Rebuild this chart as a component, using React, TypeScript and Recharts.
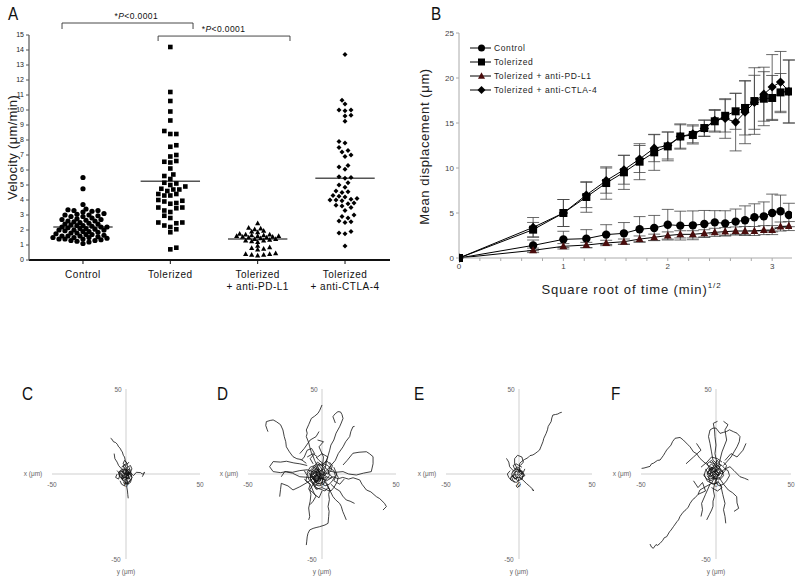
import React from 'react';
import {
  ScatterChart, Scatter, XAxis, YAxis, ReferenceLine, ReferenceDot,
  LineChart, Line, ErrorBar, Legend,
} from 'recharts';

const FONT = '"Liberation Sans", Arial, sans-serif';

// ---------------- Panel A data (velocity, µm/min) ----------------
const categories = ['Control', 'Tolerized', 'Tolerized\n+ anti-PD-L1', 'Tolerized\n+ anti-CTLA-4'];
const controlVelocity = [5.5, 4.75, 3.7, 3.4, 3.35, 3.3, 3.3, 3.25, 3.2, 3.1, 3.05, 3.0, 3.0, 2.95, 2.9, 2.9, 2.8, 2.75, 2.7, 2.7, 2.65, 2.6, 2.6, 2.55, 2.5, 2.45, 2.4, 2.4, 2.35, 2.3, 2.3, 2.25, 2.2, 2.2, 2.2, 2.15, 2.1, 2.1, 2.05, 2.0, 2.0, 2.0, 1.95, 1.9, 1.9, 1.85, 1.8, 1.8, 1.75, 1.7, 1.7, 1.65, 1.6, 1.6, 1.6, 1.55, 1.5, 1.5, 1.5, 1.45, 1.4, 1.4, 1.4, 1.35, 1.3, 1.3, 1.25, 1.2, 1.1];
const tolerizedVelocity = [14.2, 11.2, 10.6, 9.9, 9.3, 8.6, 8.4, 8.4, 7.65, 7.55, 7.0, 6.9, 6.6, 6.55, 6.5, 6.1, 5.7, 5.6, 5.4, 5.15, 5.1, 5.0, 4.9, 4.75, 4.7, 4.7, 4.6, 4.4, 4.3, 4.3, 4.4, 4.0, 3.95, 3.9, 3.8, 3.75, 3.5, 3.45, 3.5, 3.3, 3.2, 2.95, 2.8, 2.5, 2.5, 2.45, 2.3, 2.2, 2.05, 1.85, 0.82, 0.71];
const pdl1Velocity = [2.45, 2.15, 2.1, 2.05, 1.95, 1.9, 1.85, 1.75, 1.7, 1.7, 1.65, 1.65, 1.6, 1.6, 1.6, 1.55, 1.55, 1.5, 1.5, 1.45, 1.4, 1.4, 1.35, 1.3, 1.3, 1.25, 1.2, 0.95, 0.85, 0.8, 0.75, 0.7, 0.45, 0.4, 0.4, 0.35, 0.35, 0.3];
const ctla4Velocity = [13.7, 10.65, 10.4, 10.0, 10.0, 9.95, 9.65, 9.6, 9.25, 7.9, 7.8, 7.5, 7.3, 7.2, 7.0, 6.9, 6.3, 6.2, 6.05, 5.55, 5.5, 5.45, 5.15, 5.0, 4.85, 4.6, 4.55, 4.5, 4.3, 4.25, 4.2, 4.1, 4.05, 4.0, 4.0, 3.95, 3.8, 3.75, 3.65, 3.6, 3.5, 3.3, 3.0, 2.9, 2.8, 2.6, 2.55, 2.5, 1.9, 1.8, 1.75, 0.93];
const medianVelocity = [2.2, 5.25, 1.4, 5.45];
const velocityTicks = [0, 1, 2, 3, 4, 5, 6, 7, 8, 9, 10, 11, 12, 13, 14, 15];
const brackets = [
  { from: -0.24, to: 1.26, y: 15.8, drop: 15.4, label: 0.61 },
  { from: 0.86, to: 2.37, y: 14.93, drop: 14.6, label: 1.61 },
];

// ---------------- Panel B data (mean displacement, µm) ----------------
const sqrtTime = [0, 0.71, 1, 1.22, 1.41, 1.58, 1.73, 1.87, 2, 2.12, 2.24, 2.35, 2.45, 2.55, 2.65, 2.74, 2.83, 2.92, 3, 3.08, 3.16];
const controlDisp = [0, 1.4, 2.07, 2.15, 2.6, 2.74, 3.2, 3.33, 3.7, 3.6, 3.63, 3.78, 3.96, 3.85, 4.04, 4.19, 4.52, 4.63, 5.0, 5.19, 4.78];
const controlErr = [0, 0.6, 0.9, 1.0, 1.1, 1.2, 1.4, 1.4, 1.7, 1.6, 1.6, 1.5, 1.3, 1.4, 1.4, 1.6, 1.5, 1.6, 2.1, 1.8, 1.3];
const tolerizedDisp = [0, 3.15, 5.0, 6.78, 8.33, 9.52, 10.7, 11.74, 12.4, 13.5, 13.67, 14.44, 15.19, 15.8, 16.3, 16.67, 17.44, 17.7, 17.78, 18.4, 18.5];
const tolerizedErr = [0, 0.8, 1.5, 1.7, 1.8, 1.9, 2.0, 2.0, 1.6, 1.4, 1.0, 0.9, 1.2, 1.8, 2.0, 3.0, 3.7, 3.0, 2.5, 2.1, 3.5];
const pdl1Disp = [0, 0.85, 1.3, 1.44, 1.67, 1.81, 2.1, 2.3, 2.5, 2.63, 2.63, 2.74, 2.85, 2.93, 3.0, 3.0, 3.0, 3.1, 3.1, 3.5, 3.55];
const pdl1Err = [0, 0.25, 0.3, 0.3, 0.3, 0.3, 0.35, 0.35, 0.4, 0.4, 0.4, 0.4, 0.45, 0.45, 0.45, 0.5, 0.5, 0.5, 0.5, 0.5, 0.5];
const ctla4Disp = [0, 3.4, 5.0, 7.0, 8.6, 9.8, 11.0, 12.2, 12.5, 13.5, 13.8, 14.4, 15.3, 15.5, 15.1, 16.2, 17.3, 18.2, 19.0, 19.55, 18.5];
const ctla4Err = [0, 1.1, 1.5, 1.4, 1.4, 1.6, 1.5, 1.5, 1.5, 1.3, 1.0, 0.9, 1.2, 2.2, 3.2, 3.5, 3.0, 3.0, 3.6, 3.4, 3.5];
const dispYTicks = [0, 5, 10, 15, 20, 25];
const timeTicks = [0, 0.2, 0.4, 0.6, 0.8, 1, 1.2, 1.4, 1.6, 1.8, 2, 2.2, 2.4, 2.6, 2.8, 3];
const seriesB = [
  { key: 'control', name: 'Control', kind: 'circle', fill: '#000' },
  { key: 'tol', name: 'Tolerized', kind: 'square', fill: '#000' },
  { key: 'pd', name: 'Tolerized + anti-PD-L1', kind: 'triangle', fill: '#4a0c0c' },
  { key: 'ctla', name: 'Tolerized + anti-CTLA-4', kind: 'diamond', fill: '#000' },
];

// ---------------- Panels C-F: cell tracks (x, y in µm) ----------------
const tracksC = [
  [[-10.4, 21], [-9.5, 20.5], [-8.5, 19], [-7, 18.5], [-5.9, 17.5], [-5, 16], [-4, 15.2], [-3, 13.5], [-2.5, 13], [-1.8, 11], [-1, 10], [-0.5, 8], [0, 7], [0.8, 5.5], [1, 4], [0.3, 2.5], [0, 1]],
  [[-8, 12], [-7.5, 9], [-6, 7], [-5, 5], [-3, 3], [-1, 2]],
  [[0, 0], [3, 1], [5, -1], [7, 1], [9.9, 0.8], [11, 0], [12.6, 1], [11, -1.6]],
  [[0, -2], [1, -4], [0.5, -7.5], [1, -10], [1.2, -12], [1.5, -14.3]],
  [[-2, -3], [-4, -1], [-5, 1], [-3, 2], [-1, 0], [1, 1], [2, -2], [0, -3]],
  [[-3, 4], [-1, 5], [1, 3], [2, 0], [0, -1], [-2, 1]],
  [[2, 4], [3, 2], [4, -2], [3, -5], [1, -6], [-1, -5]],
  [[-4, -4], [-3, -6], [-1, -7], [0, -4], [-2, -2]],
  [[-6, 0], [-7, -2], [-5, -3], [-4, 0], [-6, 2]],
  [[1, 6], [-1, 8], [-2, 6], [0, 5], [2, 7]],
  [[0, 0], [1, -1], [2, 0], [1, 2], [-1, 1], [-2, 2], [-3, 0], [-2, -2], [0, -2], [2, -3], [3, -1], [2, 1], [0, 3], [-1, 4]],
  [[-1, -1], [-2, -3], [-4, -2], [-5, 0], [-4, 2], [-2, 3], [0, 2], [1, 0], [3, 1], [4, 3], [3, 5], [1, 4]],
  [[1, 0], [0, -3], [1, -5], [3, -4], [4, -2], [3, 0], [1, 1], [-1, 3], [-2, 5], [0, 6]],
  [[0, 1], [-1, -1], [0, -2], [1, -1], [0, 1], [-2, 0], [-3, -2], [-2, -4], [0, -5], [2, -6]],
  [[-1, -2], [1, -3], [2, -1], [0, 0], [-2, -1], [-3, -3], [-1, -4], [1, -2], [3, -3], [2, -5], [0, -6], [-2, -5]],
  [[0, -1], [-2, 1], [-1, 3], [1, 2], [2, 3], [3, 0], [1, -1], [-1, -2], [-3, -1], [-4, 1], [-2, 2]],
];
const tracksD = [
  [[-2, 3], [-3.5, 5.5], [-5, 8], [-6, 10.5], [-7, 12], [-8.3, 16], [-9, 18.5], [-10.6, 22], [-10, 24], [-10.6, 25.9], [-9, 29], [-7.2, 32.7], [-5, 34], [-2.7, 35.7], [-1.5, 37.5], [0, 40.6]],
  [[-10.6, 6.3], [-14, 8.5], [-17, 9], [-19.6, 10.2], [-22, 13], [-24.1, 16], [-24.5, 19], [-25.5, 22], [-26.4, 25.9], [-28, 29], [-30.9, 30.8], [-33, 31.8], [-35, 31.5], [-37.6, 30.8], [-38, 28.5], [-37, 26], [-36.5, 24.9]],
  [[2, 3], [3.5, 9], [5.2, 14], [6, 17], [8, 20], [9.5, 24], [11.9, 27.8], [13, 30], [14.2, 32.7], [13.5, 35], [12.5, 36.5], [10.8, 36.7], [9, 35.5], [8, 34.5], [7.4, 33.7], [9, 30]],
  [[3, 2], [6, 5], [9, 8], [11, 12], [14.2, 16], [16, 19], [18.7, 22], [19.5, 25], [20.9, 27.8], [22, 28]],
  [[-5, 1], [-10, 2.5], [-15, 2], [-20, 1], [-24.1, 1.4], [-28, 0.8], [-33, 1.4], [-35.4, 4.3], [-33, 7.3], [-28, 7], [-24, 7.5], [-19, 6.5], [-15, 6], [-10, 5]],
  [[4, 2], [9, 1], [14.2, 1.4], [18, 0], [23.2, -0.6], [28, 0.5], [33.3, 1.4], [34.5, 6], [34.5, 10.2], [32, 12], [30, 13.1], [25, 12.8], [20.9, 12.2], [17, 8], [14.2, 5.3]],
  [[2, -1], [5, -2.5], [7.4, -1.6], [11, -2.8], [14, -2], [18, -3], [21, -2.2], [25.5, -3.5], [27, -6], [30, -9.4], [33, -10.5], [36.7, -13.3], [39, -14.5], [42.3, -17.3], [43.5, -19.2], [41.2, -21.2]],
  [[1, -3], [3, -6], [5.2, -9.4], [4.5, -12], [5, -15], [4.1, -19.2], [4.8, -22], [4.5, -25], [4.1, -29], [2, -30], [-1.6, -31], [-4, -31.5], [-6, -32], [-8.3, -32.9], [-9.5, -35], [-10, -37], [-10.3, -39.5], [-10.6, -41.8]],
  [[-5, -2], [-10, -5], [-15, -7.5], [-19.6, -9.4], [-23, -7], [-27.5, -5.5], [-28, -9], [-28.6, -13.3]],
  [[-4, -3], [-6, -6], [-8.3, -9.4], [-7.5, -12], [-8, -16], [-9, -20], [-8.3, -25.1], [-9, -27]],
  [[3, -5], [5, -9], [7.4, -13.3], [9, -15], [11.9, -17.3], [13, -19], [14, -22], [15, -24], [16.4, -27]],
  [[6, -6], [9, -8.5], [12, -10], [14, -13], [16.4, -15.3], [19, -16], [22, -17.3]],
  [[-3, -1], [-9, -2], [-15, -1.6], [-20, 0.5], [-25.2, 1.4], [-27.5, -1.6]],
  [[0, 2], [1, 10], [-2, 16], [1, 19], [-3, 20]],
  [[-6, 4], [-3, 7], [0, 5], [3, 8], [6, 5], [4, 1], [7, -2], [3, -4], [-1, -2], [-4, -5], [-7, -1]],
  [[-10, 10], [-6, 12], [-3, 10], [0, 12], [4, 10], [2, 6]],
  [[5, -10], [0, -8], [-4, -9], [-6, -6], [-2, -4]],
  [[-12, -3], [-8, -6], [-5, -12], [-2, -14], [0, -10]],
  [[8, 4], [10, 0], [8, -4], [12, -6], [15, -3]],
  [[-15, 12], [-12, 15], [-8, 20], [-4, 22], [-2, 25]],
  [[-3, 3], [-1, -1], [2, 1], [1, 4], [-2, 6], [-5, 2], [-2, -3], [3, -2]],
  [[0, 0], [2, -1], [3, 1], [1, 3], [-1, 2], [-3, 3], [-4, 0], [-2, -2], [0, -3], [3, -3], [5, -1], [4, 2], [2, 4], [0, 6], [-2, 5]],
  [[-1, -1], [-3, -4], [-6, -3], [-8, -1], [-7, 2], [-5, 4], [-3, 6], [-1, 4], [1, 1], [4, 0], [6, 2], [7, 5], [5, 7]],
  [[1, 0], [0, -5], [2, -7], [5, -6], [7, -4], [9, -1], [8, 2], [6, 3], [4, 5], [1, 6], [-2, 8], [-4, 10]],
  [[0, 1], [-2, -1], [-1, -3], [1, -2], [2, 0], [0, 2], [-3, 1], [-5, -2], [-4, -5], [-1, -6], [2, -4]],
  [[-6, -6], [-4, -8], [-1, -9], [2, -10], [4, -8], [6, -10], [8, -8], [10, -5], [11, -2], [9, 1]],
  [[-4, -2], [-6, 0], [-3, 1], [-1, -1], [-3, -4], [-6, -5], [-8, -3], [-7, 1], [-5, 3], [-2, 2], [0, -2], [-2, -5], [-5, -7], [-3, -9]],
  [[-5, -1], [-2, -3], [-4, -5], [-7, -2], [-9, 1], [-6, 4], [-3, 3], [-1, 0], [-4, -1], [-6, -3], [-3, -6], [0, -5], [1, -2]],
  [[-3, 0], [-5, -3], [-2, -2], [-4, 2], [-7, 0], [-5, -4], [-1, -4], [-2, 1], [-6, 2], [-8, -2], [-6, -6]],
  [[-4, -3], [-1, -3], [1, 0], [-2, 3], [-5, 5], [-8, 4], [-10, 1], [-9, -3], [-6, -6], [-2, -7], [1, -6], [3, -3]],
  [[-2, -2], [-4, 0], [-6, -2], [-4, -4], [-2, -2], [0, 0], [-3, 2], [-5, 1], [-7, -1], [-5, -3]],
  [[-12, 2], [-10, -1], [-11, -4], [-8, -6], [-9, -9], [-6, -11], [-4, -13], [-6, -16], [-8, -18]],
  [[-6, 6], [-8, 9], [-5, 12], [-7, 15], [-10, 14], [-12, 10], [-14, 8]],
];
const tracksE = [
  [[0, 2], [0.5, 6.3], [2, 7.5], [3.9, 8.6], [6, 9.5], [7.5, 10.8], [9.5, 11.2], [11, 12], [12.5, 13], [14.1, 14.1], [15, 16], [16.4, 19], [17, 21], [18.6, 23.9], [19.5, 26], [20, 28], [22, 30.8], [22.5, 33], [23.2, 34.7], [25, 35], [26.6, 35.3], [28, 36], [29.3, 36.3]],
  [[-1, 3], [-3, 6], [-3, 9], [-1, 11], [2, 10], [3, 7], [1, 5]],
  [[0, -2], [2, -3], [5, -5.5], [7, -7], [9.5, -9], [10, -10], [9, -9]],
  [[-8.6, 9.2], [-7, 7], [-6.4, 4.3], [-4, 2]],
  [[-4, 1], [-2, 3], [1, 2], [3, 0], [2, -3], [-1, -4], [-3, -2], [-5, -1], [-6, -3], [-3, -5]],
  [[-2, -1], [0, 1], [2, 2], [4, -1], [1, -2], [-1, 0]],
  [[0, -5], [-2, -7], [-1, -8], [1, -6]],
  [[-6, 2], [-8, 0], [-7, -2], [-5, -4]],
  [[0, 0], [1, -1], [2, 0], [1, 2], [-1, 1], [-2, 2], [-3, 0], [-2, -2], [0, -2], [2, -3], [3, -1], [2, 1], [0, 3]],
  [[-1, -1], [-2, -3], [-4, -2], [-5, 0], [-4, 2], [-2, 3], [0, 2], [1, 0], [3, 1], [4, 3]],
  [[-2, 0], [-4, -1], [-3, -3], [-1, -2], [0, -4], [-2, -5], [-4, -4], [-5, -2], [-3, 1], [-1, 2]],
  [[-1, 1], [1, 3], [-1, 4], [-3, 3], [-4, 5], [-2, 6], [0, 5], [2, 4]],
];
const tracksF = [
  [[-1, -2], [-2.9, -5.5], [-6, -7], [-8, -8], [-10.7, -9.4], [-12, -12], [-14, -14], [-15.5, -15], [-17.3, -17.3], [-18.5, -19.5], [-20, -21], [-22, -22.5], [-24, -25], [-25, -27], [-26, -28], [-28.4, -31], [-30, -33], [-31, -34], [-32.9, -36.9], [-34.5, -37.5], [-35.5, -39], [-37.3, -40.8], [-39, -42], [-40, -41.5], [-41.8, -43.7], [-43, -43], [-44, -41.2]],
  [[-2, 3], [-5, 5], [-8, 7], [-10.7, 9.2], [-13, 12], [-15, 13], [-17.3, 16], [-19, 17.5], [-21.8, 20], [-24, 21.5], [-27.3, 21], [-29, 19], [-30, 17], [-32.9, 14.1], [-34, 12.5], [-35, 11], [-37.3, 8.2], [-39, 8], [-41.8, 6.3], [-43, 6], [-44, 4.5], [-46, 4], [-48, 3.5], [-49.6, 3.3]],
  [[0, 3], [0.5, 7], [-0.7, 12], [0, 17], [-0.7, 22], [-1, 26], [-1.8, 29.8], [1, 31]],
  [[-2, 8], [-3, 13], [-4, 18], [-5, 22], [-4, 25.9], [-2, 27], [0, 27], [2.7, 23.9], [5, 24.5], [7, 25], [9, 26], [11.6, 24.9], [14, 24], [16, 22], [15.5, 19], [14, 16], [12, 13], [10, 10], [7, 7], [5, 5]],
  [[2, 6], [4, 13], [7.1, 20], [6.5, 23], [6, 26], [8, 29], [5, 31]],
  [[3, 1], [6, 3], [9.3, 4.3], [12, 2], [16, -1.6], [19, -2.5], [21.6, -3.5]],
  [[2, -2], [5, -6], [8.2, -9.4], [11, -11], [13.8, -13.3], [14, -17], [15.1, -20.2], [12, -22]],
  [[0, -3], [-1, -6], [-1.8, -9.4], [-1, -13], [-2, -16], [-2, -19], [-2.9, -21.2], [-4.5, -24], [-6.2, -27]],
  [[3, -6], [4.5, -12], [6, -17.3], [5, -21], [6, -25], [6.5, -29]],
  [[-4, -6], [-7, -12], [-9.6, -17.3], [-9, -21], [-10, -25]],
  [[-4, 2], [-1, 5], [2, 3], [5, 1], [3, -2], [-1, -3], [-4, -1], [-6, 1], [-3, 3]],
  [[-8, 0], [-6, -4], [-2, -6], [2, -5], [4, -8], [1, -10], [-3, -8]],
  [[-10, 4], [-6, 7], [-3, 10], [1, 9], [4, 7]],
  [[-15, -4], [-12, -8], [-9, -5], [-7, -10], [-12, -12]],
  [[6, 8], [10, 12], [14, 10], [18, 14], [20, 18]],
  [[-20, 6], [-15, 10], [-10, 14], [-13, 18]],
  [[0, 0], [2, -1], [3, 1], [1, 3], [-1, 2], [-3, 3], [-4, 0], [-2, -2], [0, -3], [3, -3], [5, -1], [4, 2], [2, 4], [0, 6], [-2, 5]],
  [[-1, -1], [-3, -4], [-6, -3], [-8, -1], [-7, 2], [-5, 4], [-3, 6], [-1, 4], [1, 1], [4, 0], [6, 2], [7, 5], [5, 7]],
  [[1, 0], [0, -5], [2, -7], [5, -6], [7, -4], [9, -1], [8, 2], [6, 3], [4, 5], [1, 6], [-2, 8]],
  [[0, 1], [-2, -1], [-1, -3], [1, -2], [2, 0], [0, 2], [-3, 1], [-5, -2], [-4, -5], [-1, -6], [2, -4]],
  [[-3, 1], [-5, 3], [-2, 4], [0, 2], [-2, 0], [-4, -2], [-6, 0], [-4, 3], [-1, 1], [1, 3], [-1, 6], [-4, 7]],
  [[-2, 2], [0, 0], [-3, -1], [-5, 1], [-3, 4], [-1, 3], [1, 1], [-1, -2], [-4, -3], [-6, -1]],
  [[-4, 3], [-6, 6], [-3, 8], [-1, 6], [1, 8], [3, 5], [1, 2], [-2, 1], [-5, 0], [-7, 3]],
  [[-1, 2], [1, -1], [3, 2], [2, 5], [-1, 4], [-3, 2], [-2, -1], [0, -2], [2, 0]],
];

// ---------------- helpers ----------------
const PX_PER_VEL = 15;
const PX_PER_CAT = 87.33;

function swarm(values: number[], center: number, minD: number) {
  const sorted = [...values].sort((a, b) => a - b);
  const placed: number[][] = [];
  const step = 3.0;
  const out: { x: number; y: number }[] = [];
  sorted.forEach((v) => {
    const yp = v * PX_PER_VEL;
    let chosen = 0;
    for (let k = 0; k < 60; k++) {
      let cands = k === 0 ? [0] : [-k * step, k * step];
      if (k > 0 && placed.length % 2 === 1) cands = cands.reverse();
      let found: number | null = null;
      for (const c of cands) {
        if (placed.every(([px, py]) => (px - c) * (px - c) + (py - yp) * (py - yp) >= minD * minD)) {
          found = c;
          break;
        }
      }
      if (found !== null) { chosen = found; break; }
    }
    placed.push([chosen, yp]);
    out.push({ x: center + chosen / PX_PER_CAT, y: v });
  });
  return out;
}

function marker(kind: string, cx: number, cy: number, s: number, fill: string) {
  if (kind === 'circle') return <circle cx={cx} cy={cy} r={s} fill={fill} />;
  if (kind === 'square') return <rect x={cx - s} y={cy - s} width={2 * s} height={2 * s} fill={fill} />;
  if (kind === 'triangle')
    return <path d={`M${cx},${cy - s * 1.1} L${cx + s},${cy + s * 0.75} L${cx - s},${cy + s * 0.75} Z`} fill={fill} />;
  return <path d={`M${cx},${cy - s} L${cx + s},${cy} L${cx},${cy + s} L${cx - s},${cy} Z`} fill={fill} />;
}

const shapeA = (kind: string, s: number) => (p: any) => marker(kind, p.cx, p.cy, s, '#000');
const EmptyShape = () => <g />;

const CatTick = (props: any) => {
  const { x, y, payload } = props;
  const lines = categories[payload.value].split('\n');
  return (
    <text x={x} y={y + 12} textAnchor="middle" fontSize={10} letterSpacing={0.5} fill="#111" fontFamily={FONT}>
      {lines.map((l, i) => (
        <tspan key={i} x={x} dy={i === 0 ? 0 : 12}>{l}</tspan>
      ))}
    </text>
  );
};

const pLabel = (props: any) => {
  const vb = props.viewBox || {};
  const cx = vb.x + (vb.width || 0) / 2;
  const cy = vb.y + (vb.height || 0) / 2;
  return (
    <text x={cx} y={cy - 4} textAnchor="middle" fontSize={8.5} letterSpacing={0.4} fill="#111" fontFamily={FONT}>
      *<tspan fontStyle="italic">P</tspan>&lt;0.0001
    </text>
  );
};

function PanelA() {
  const groups = [controlVelocity, tolerizedVelocity, pdl1Velocity, ctla4Velocity];
  const minDs = [3.9, 5.0, 3.6, 4.8];
  const shapes = [shapeA('circle', 2.6), shapeA('square', 2.3), shapeA('triangle', 2.6), shapeA('diamond', 2.5)];
  return (
    <ScatterChart width={400} height={300} margin={{ top: 35, right: 10, bottom: 10, left: 0 }}>
      <XAxis type="number" dataKey="x" domain={[-0.618, 3.515]} ticks={[0, 1, 2, 3]} interval={0}
        tick={CatTick} axisLine={{ stroke: '#111', strokeWidth: 2 }} tickLine={{ stroke: '#111' }} tickSize={4}
        height={30} allowDataOverflow />
      <YAxis type="number" dataKey="y" domain={[0, 15]} ticks={velocityTicks} interval={0} width={29}
        tick={{ fontSize: 7, fill: '#222', fontFamily: FONT }} tickSize={3}
        axisLine={{ stroke: '#555', strokeWidth: 1.2 }} tickLine={{ stroke: '#555' }} allowDataOverflow
        label={(p: any) => {
          const vb = p.viewBox || {};
          const cy = vb.y + vb.height / 2;
          return (
            <text transform={`translate(${vb.x + 17},${cy}) rotate(-90)`} textAnchor="middle" fontSize={13}
              letterSpacing={0.3} fill="#222" fontFamily={FONT}>Velocity (μm/min)</text>
          );
        }} />
      {groups.map((g, i) => (
        <Scatter key={'g' + i} data={swarm(g, i, minDs[i])} shape={shapes[i]} isAnimationActive={false} />
      ))}
      {medianVelocity.map((m, i) => (
        <ReferenceLine key={'m' + i} segment={[{ x: i - 0.34, y: m }, { x: i + 0.34, y: m }]}
          stroke="#555" strokeWidth={1.4} ifOverflow="visible" />
      ))}
      {brackets.map((b, i) => (
        <ReferenceLine key={'bh' + i} segment={[{ x: b.from, y: b.y }, { x: b.to, y: b.y }]}
          stroke="#333" strokeWidth={0.9} ifOverflow="visible" />
      ))}
      {brackets.map((b, i) => (
        <ReferenceLine key={'bl' + i} segment={[{ x: b.from, y: b.y }, { x: b.from, y: b.drop }]}
          stroke="#333" strokeWidth={0.9} ifOverflow="visible" />
      ))}
      {brackets.map((b, i) => (
        <ReferenceLine key={'br' + i} segment={[{ x: b.to, y: b.y }, { x: b.to, y: b.drop }]}
          stroke="#333" strokeWidth={0.9} ifOverflow="visible" />
      ))}
      {brackets.map((b, i) => (
        <ReferenceDot key={'bt' + i} x={b.label} y={b.y} r={0} fill="none" stroke="none"
          ifOverflow="visible" label={pLabel} />
      ))}
    </ScatterChart>
  );
}

const dotB = (kind: string, s: number, fill: string) => (p: any) => {
  if (p.cx == null || p.cy == null) return <g key={p.key || p.index} />;
  return <g key={'d' + p.index}>{marker(kind, p.cx, p.cy, s, fill)}</g>;
};

const LegendB = () => (
  <svg width={200} height={62} style={{ overflow: 'visible' }}>
    {seriesB.map((s, i) => {
      const y = 10 + i * 14;
      return (
        <g key={s.key}>
          <line x1={8} x2={29} y1={y} y2={y} stroke="#000" strokeWidth={1} />
          {marker(s.kind, 19.5, y, s.kind === 'diamond' ? 4 : 3.5, s.fill)}
          <text x={32} y={y + 3} fontSize={8.5} letterSpacing={0.6} fill="#222" fontFamily={FONT}>{s.name}</text>
        </g>
      );
    })}
  </svg>
);

function PanelB() {
  const data = sqrtTime.map((x, i) => ({
    x,
    control: controlDisp[i], controlErr: controlErr[i],
    tol: tolerizedDisp[i], tolErr: tolerizedErr[i],
    pd: pdl1Disp[i], pdErr: pdl1Err[i],
    ctla: ctla4Disp[i], ctlaErr: ctla4Err[i],
  }));
  const order = ['control', 'pd', 'ctla', 'tol'];
  const sizes: Record<string, number> = { control: 4.2, tol: 4, pd: 3.9, ctla: 4.6 };
  return (
    <LineChart width={400} height={300} data={data} margin={{ top: 33, right: 8, bottom: 10, left: 0 }}>
      <XAxis type="number" dataKey="x" domain={[0, 3.19]} ticks={timeTicks} interval={0} allowDataOverflow
        tickFormatter={(v: number) => (Math.abs(v - Math.round(v)) < 1e-6 ? String(Math.round(v)) : '')}
        tick={{ fontSize: 8, fill: '#444', fontFamily: FONT }} tickSize={3}
        axisLine={{ stroke: '#aaa' }} tickLine={{ stroke: '#aaa' }} height={32}
        label={(p: any) => {
          const vb = p.viewBox || {};
          return (
            <text x={vb.x + vb.width / 2 + 6} y={vb.y + 36} textAnchor="middle" fontSize={13} letterSpacing={0.9}
              fill="#222" fontFamily={FONT}>
              Square root of time (min)<tspan fontSize={8} dy={-6}>1/2</tspan>
            </text>
          );
        }} />
      <YAxis type="number" domain={[0, 25]} ticks={dispYTicks} interval={0} width={59}
        tick={{ fontSize: 8, fill: '#444', fontFamily: FONT }} tickSize={3}
        axisLine={{ stroke: '#aaa' }} tickLine={{ stroke: '#aaa' }}
        label={(p: any) => {
          const vb = p.viewBox || {};
          const cy = vb.y + vb.height / 2;
          return (
            <text transform={`translate(${vb.x + 29},${cy + 1}) rotate(-90)`} textAnchor="middle" fontSize={13}
              letterSpacing={0.6} fill="#222" fontFamily={FONT}>Mean displacement (μm)</text>
          );
        }} />
      <Legend layout="vertical" align="center" verticalAlign="middle" content={LegendB}
        wrapperStyle={{ position: 'absolute', left: 62, top: 38, width: 200, height: 62 }} />
      {order.map((k) => {
        const s = seriesB.find((q) => q.key === k)!;
        return (
          <Line key={k} dataKey={k} name={s.name} stroke="#000" strokeWidth={1} isAnimationActive={false}
            dot={dotB(s.kind, sizes[k], s.fill)} activeDot={false}>
            <ErrorBar dataKey={k + 'Err'} width={6} stroke="#444" strokeWidth={0.8} direction="y" />
          </Line>
        );
      })}
    </LineChart>
  );
}

const smallLabel = (text: string, dx: number, dy: number) => (p: any) => {
  const vb = p.viewBox || {};
  const cx = vb.x + (vb.width || 0) / 2;
  const cy = vb.y + (vb.height || 0) / 2;
  return (
    <text x={cx + dx} y={cy + dy} textAnchor="middle" fontSize={6.5} fill="#666" fontFamily={FONT}>{text}</text>
  );
};

function TrackPanel({ tracks, width }: { tracks: number[][][]; width: number }) {
  return (
    <ScatterChart width={width + 60} height={212} margin={{ top: 19, left: 40, right: 20, bottom: 23 }}>
      <XAxis type="number" dataKey="x" domain={[-50, 50]} hide allowDataOverflow />
      <YAxis type="number" dataKey="y" domain={[-50, 50]} hide allowDataOverflow />
      <ReferenceLine x={0} stroke="#cfcfcf" strokeWidth={1} />
      <ReferenceLine y={0} stroke="#cfcfcf" strokeWidth={1} />
      <ReferenceDot x={0} y={50} r={0} fill="none" stroke="none" label={smallLabel('50', -8, 3)} />
      <ReferenceDot x={0} y={-50} r={0} fill="none" stroke="none" label={smallLabel('-50', -10, 3)} />
      <ReferenceDot x={-50} y={0} r={0} fill="none" stroke="none" label={smallLabel('-50', 0, 13)} />
      <ReferenceDot x={50} y={0} r={0} fill="none" stroke="none" label={smallLabel('50', 0, 13)} />
      <ReferenceDot x={0} y={0} r={0} fill="none" stroke="none" label={smallLabel('0', 0, 13)} />
      <ReferenceDot x={-50} y={0} r={0} fill="none" stroke="none" label={smallLabel('x (μm)', -19, 2)} />
      <ReferenceDot x={0} y={-50} r={0} fill="none" stroke="none" label={smallLabel('y (μm)', 0, 15)} />
      {tracks.map((t, i) => (
        <Scatter key={i} data={t.map(([x, y]) => ({ x, y }))} line={{ stroke: '#111', strokeWidth: 0.8 }}
          lineType="joint" shape={EmptyShape} isAnimationActive={false} />
      ))}
    </ScatterChart>
  );
}

const trackPanels = [
  { letter: 'C', tracks: tracksC, plotLeft: 52, width: 148 },
  { letter: 'D', tracks: tracksD, plotLeft: 248, width: 148 },
  { letter: 'E', tracks: tracksE, plotLeft: 446, width: 146 },
  { letter: 'F', tracks: tracksF, plotLeft: 641, width: 150 },
];

const letters = [
  { t: 'A', x: 8, y: 20 }, { t: 'B', x: 431, y: 20 },
  { t: 'C', x: 22, y: 400 }, { t: 'D', x: 217, y: 400 },
  { t: 'E', x: 414, y: 400 }, { t: 'F', x: 611, y: 400 },
];

export default function App() {
  return (
    <div style={{ position: 'absolute', left: 0, top: 0, width: 800, height: 582, background: '#fff', overflow: 'hidden', fontFamily: FONT }}>
      <div style={{ position: 'absolute', left: 0, top: 0 }}><PanelA /></div>
      <div style={{ position: 'absolute', left: 400, top: 0 }}><PanelB /></div>
      {trackPanels.map((p) => (
        <div key={p.letter} style={{ position: 'absolute', left: p.plotLeft - 40, top: 370 }}>
          <TrackPanel tracks={p.tracks} width={p.width} />
        </div>
      ))}
      <svg width={800} height={582} style={{ position: 'absolute', left: 0, top: 0, pointerEvents: 'none' }}>
        {letters.map((l) => (
          <text key={l.t} x={l.x} y={l.y} fontSize={18} fill="#111" fontFamily={FONT}
            transform={`translate(${l.x},${l.y}) scale(0.85,1) translate(${-l.x},${-l.y})`}>{l.t}</text>
        ))}
      </svg>
    </div>
  );
}
